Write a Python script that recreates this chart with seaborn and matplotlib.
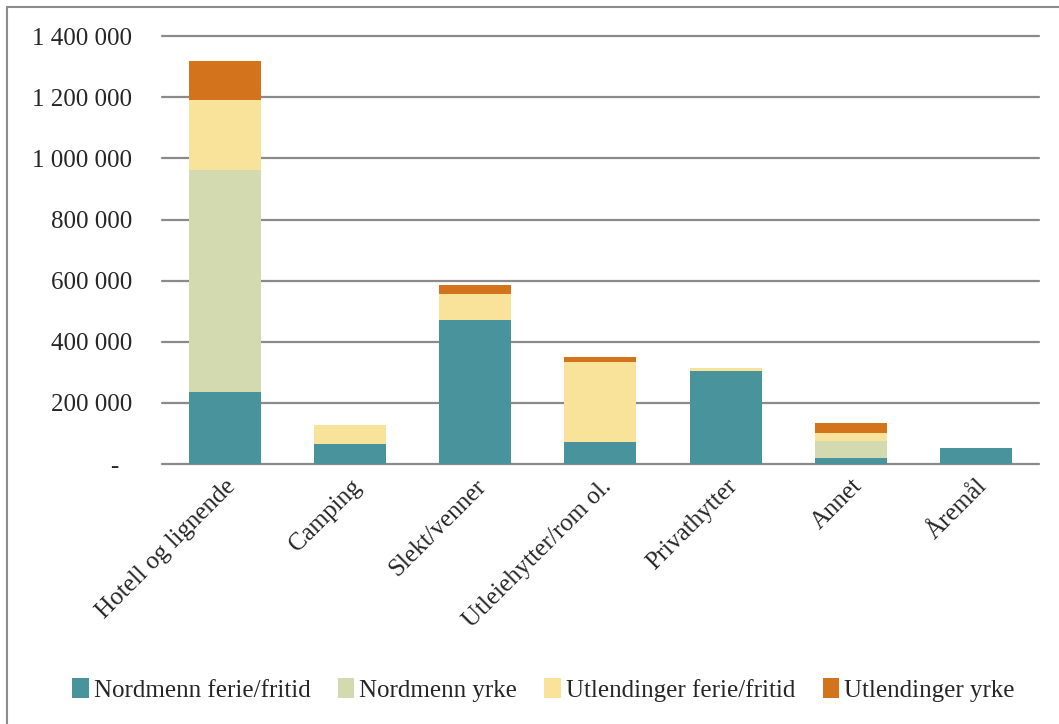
import numpy as np
import pandas as pd
import seaborn as sns
import matplotlib.pyplot as plt
from matplotlib.lines import Line2D
from matplotlib.patches import Patch

categories = ["Hotell og lignende", "Camping", "Slekt/venner", "Utleiehytter/rom ol.",
              "Privathytter", "Annet", "Åremål"]
series = ["Nordmenn ferie/fritid", "Nordmenn yrke", "Utlendinger ferie/fritid", "Utlendinger yrke"]
nordmenn_ferie = [235000, 67000, 471000, 71000, 304000, 20000, 54000]
nordmenn_yrke = [728000, 0, 0, 0, 0, 57000, 0]
utlendinger_ferie = [228000, 62000, 85000, 264000, 12000, 26000, 0]
utlendinger_yrke = [127000, 0, 29000, 16000, 0, 32000, 0]
colors = ["#48939C", "#D4DAB0", "#F9E39A", "#D3731C"]

sns.set_style("white")
plt.rcParams['font.family'] = ['Liberation Serif', 'DejaVu Serif']

df = pd.DataFrame({"kategori": categories,
                   series[0]: nordmenn_ferie, series[1]: nordmenn_yrke,
                   series[2]: utlendinger_ferie, series[3]: utlendinger_yrke})
cum = df[series].cumsum(axis=1)

fig = plt.figure(figsize=(10.59, 7.24), dpi=100)
ax = fig.add_axes([0.153, 0.359, 0.828, 0.591])

# stacked: draw cumulative totals from top layer down
for s, c in reversed(list(zip(series, colors))):
    sns.barplot(x=df["kategori"], y=cum[s], color=c, width=0.575, saturation=1,
                ax=ax, zorder=3, linewidth=0)

ax.set_ylim(0, 1400000)
ax.set_xlim(-0.5, 6.5)
yt = np.arange(0, 1400001, 200000)
ax.set_yticks(yt)
ax.set_yticklabels(["-  "] + [f"{v:,}".replace(",", " ") for v in yt[1:]], fontsize=18)
ax.yaxis.grid(True, color="#8a8a8a", linewidth=1.6, zorder=0)
for gl in ax.get_ygridlines():
    gl.set_clip_on(False)
ax.set_axisbelow(True)
ax.tick_params(axis="y", length=0, pad=21.5)
ax.tick_params(axis="x", length=0, pad=8)
ax.set_xticks(range(len(categories)))
ax.set_xticklabels(categories, rotation=45, ha="right", rotation_mode="anchor", fontsize=18)
ax.set_xlabel("")
ax.set_ylabel("")
sns.despine(ax=ax, left=True, bottom=True)

handles = [Patch(facecolor=c, edgecolor="none") for c in colors]
fig.legend(handles, series, loc="center", bbox_to_anchor=(0.513, 0.047), ncol=4,
           frameon=False, fontsize=18, handlelength=0.65, handleheight=0.85,
           handletextpad=0.2, columnspacing=1.1)

# outer chart frame (top and left edges visible)
fig.add_artist(Line2D([0.0066, 1.0], [0.9903, 0.9903], color="#8c8c8c", linewidth=1.5))
fig.add_artist(Line2D([0.0066, 0.0066], [0.0, 0.9903], color="#8c8c8c", linewidth=1.5))

fig.savefig("out.png", dpi=100)
